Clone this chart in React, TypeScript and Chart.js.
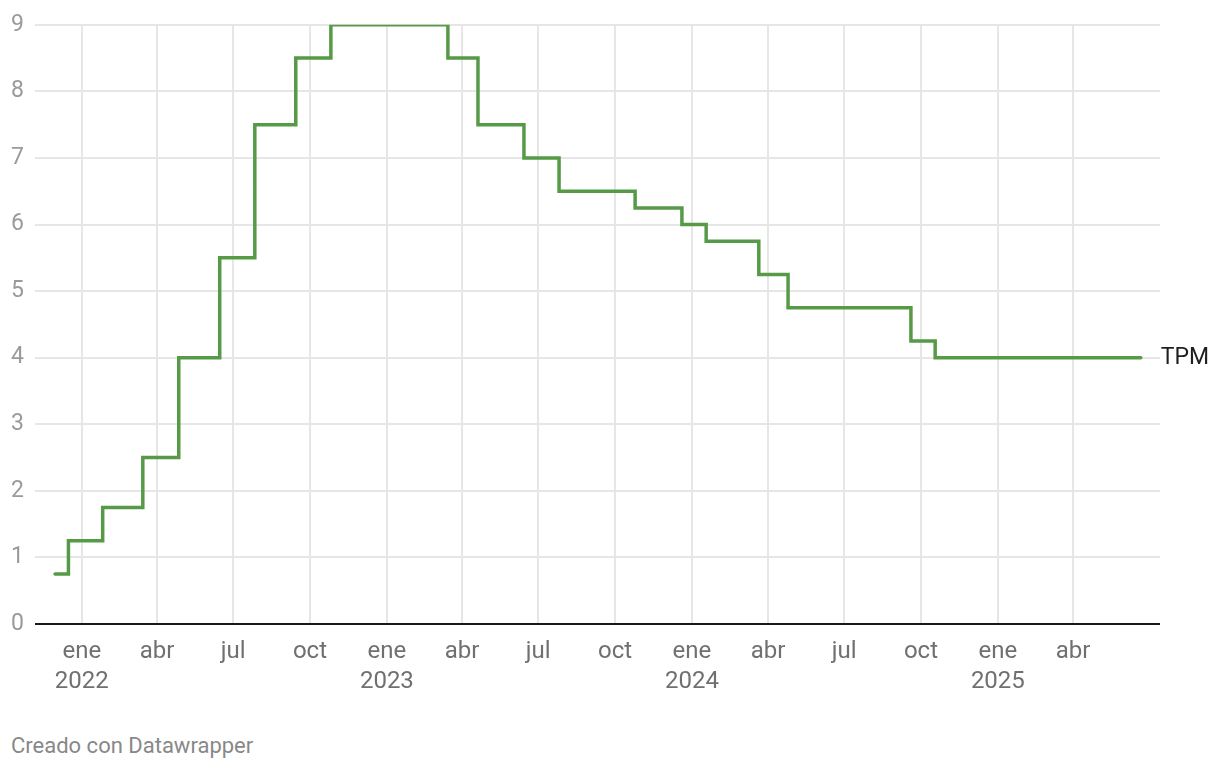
import React, { useEffect, useRef } from "react";
import { Chart, registerables } from "chart.js";

Chart.register(...registerables);

// Fechas de cambio de la TPM y su nuevo valor (%)
const rateDates = [
  "2021-11-30", "2021-12-16", "2022-01-26", "2022-03-15", "2022-04-27",
  "2022-06-15", "2022-07-27", "2022-09-14", "2022-10-26", "2023-03-15",
  "2023-04-20", "2023-06-14", "2023-07-26", "2023-10-25", "2023-12-20",
  "2024-01-18", "2024-03-21", "2024-04-25", "2024-09-19", "2024-10-18",
  "2025-06-21",
];
const rateValues = [
  0.75, 1.25, 1.75, 2.5, 4.0,
  5.5, 7.5, 8.5, 9.0, 8.5,
  7.5, 7.0, 6.5, 6.25, 6.0,
  5.75, 5.25, 4.75, 4.25, 4.0,
  4.0,
];

const seriesName = "TPM";

const tickDates = [
  "2022-01-01", "2022-04-01", "2022-07-01", "2022-10-01",
  "2023-01-01", "2023-04-01", "2023-07-01", "2023-10-01",
  "2024-01-01", "2024-04-01", "2024-07-01", "2024-10-01",
  "2025-01-01", "2025-04-01",
];
const tickLabels: (string | string[])[] = [
  ["ene", "2022"], "abr", "jul", "oct",
  ["ene", "2023"], "abr", "jul", "oct",
  ["ene", "2024"], "abr", "jul", "oct",
  ["ene", "2025"], "abr",
];
const yTicks = [0, 1, 2, 3, 4, 5, 6, 7, 8, 9];

const xMinDate = "2021-11-06";
const xMaxDate = "2025-07-14";

const BASE = Date.UTC(2022, 0, 1);
function dayNum(s: string): number {
  const [y, m, d] = s.split("-").map(Number);
  return (Date.UTC(y, m - 1, d) - BASE) / 86400000;
}

const FONT = "Roboto, 'Noto Sans', Arial, sans-serif";

export default function App() {
  const ref = useRef<HTMLCanvasElement | null>(null);

  useEffect(() => {
    document.body.style.margin = "0";
    const canvas = ref.current;
    if (!canvas) return;

    const endLabel = {
      id: "endLabel",
      afterDatasetsDraw(chart: any) {
        const meta = chart.getDatasetMeta(0);
        const pt = meta.data[meta.data.length - 1];
        if (!pt) return;
        const ctx = chart.ctx;
        ctx.save();
        ctx.font = `23px ${FONT}`;
        ctx.fillStyle = "#1f1f1f";
        ctx.textAlign = "left";
        ctx.textBaseline = "middle";
        ctx.fillText(seriesName, pt.x + 20, pt.y + 1);
        ctx.restore();
      },
    };

    const chart = new Chart(canvas, {
      type: "line",
      data: {
        datasets: [
          {
            label: seriesName,
            data: rateDates.map((d, i) => ({ x: dayNum(d), y: rateValues[i] })),
            borderColor: "#569a47",
            borderWidth: 3.5,
            stepped: true,
            pointRadius: 0,
            fill: false,
            borderCapStyle: "round",
          },
        ],
      },
      options: {
        animation: false,
        responsive: false,
        maintainAspectRatio: false,
        layout: { padding: { top: 21, right: 60, left: 0, bottom: 0 } },
        plugins: {
          legend: { display: false },
          tooltip: { enabled: false },
        },
        scales: {
          x: {
            type: "linear",
            min: dayNum(xMinDate),
            max: dayNum(xMaxDate),
            afterBuildTicks(scale: any) {
              scale.ticks = tickDates.map((d) => ({ value: dayNum(d) }));
            },
            afterFit(scale: any) {
              scale.height = 96;
            },
            ticks: {
              autoSkip: false,
              maxRotation: 0,
              padding: 13,
              color: "#707070",
              font: { family: FONT, size: 24, lineHeight: 1.25 },
              callback: (_v: any, i: number) => tickLabels[i],
            },
            grid: {
              color: "#e6e6e6",
              lineWidth: 2,
              drawTicks: false,
            },
            border: { display: false },
          },
          y: {
            min: 0,
            max: 9,
            afterBuildTicks(scale: any) {
              scale.ticks = yTicks.map((v) => ({ value: v }));
            },
            afterFit(scale: any) {
              scale.width = 35;
            },
            ticks: {
              padding: 11,
              color: "#9a9a9a",
              font: { family: FONT, size: 23 },
            },
            grid: {
              color: (ctx: any) => (ctx.tick && ctx.tick.value === 0 ? "#1a1a1a" : "#e6e6e6"),
              lineWidth: 2,
              drawTicks: false,
            },
            border: { display: false },
          },
        },
      },
      plugins: [endLabel],
    });

    return () => chart.destroy();
  }, []);

  return (
    <div style={{ position: "relative", width: 1220, height: 770, background: "#fff" }}>
      <canvas ref={ref} width={1220} height={720} style={{ display: "block", width: 1220, height: 720 }} />
      <div
        style={{
          position: "absolute",
          left: 11,
          top: 732,
          fontFamily: FONT,
          fontSize: 22,
          lineHeight: "28px",
          color: "#888888",
        }}
      >
        Creado con Datawrapper
      </div>
    </div>
  );
}
